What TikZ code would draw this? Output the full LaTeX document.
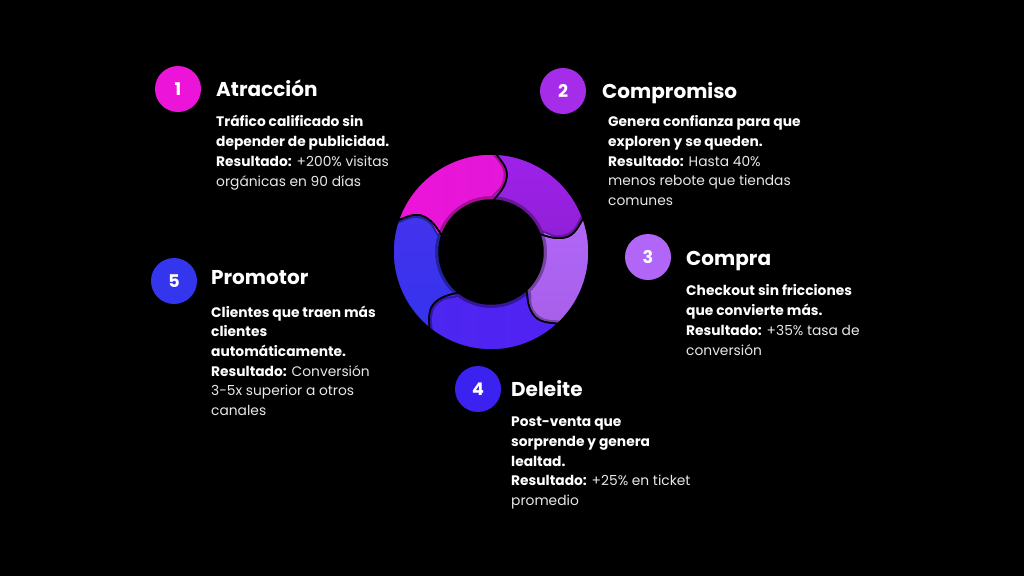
\documentclass[tikz,border=0pt]{standalone}
\usepackage{fontspec}
\setmainfont{Poppins}
\definecolor{cA}{HTML}{EC14D8}
\definecolor{cB}{HTML}{A52CE8}
\definecolor{cC}{HTML}{B266F8}
\definecolor{cD}{HTML}{3C22F0}
\definecolor{cE}{HTML}{3436EE}
\definecolor{sB}{HTML}{9E22EA}
\definecolor{sD}{HTML}{5222F2}
\definecolor{txt}{HTML}{E8E8E8}
\newcommand\ringpath[4]{\path[#4] (#1:98) arc[start angle=#1, end angle=#2, radius=98pt] .. controls ({#2-3}:92) and ({#2-9}:86) .. ({#2-9}:75) .. controls ({#2-9}:64) and ({#2-3}:{#3+5}) .. (#2:#3) arc[start angle=#2, end angle=#1, radius=#3 pt] .. controls ({#1-3}:{#3+5}) and ({#1-9}:64) .. ({#1-9}:75) .. controls ({#1-9}:86) and ({#1-3}:92) .. (#1:98) -- cycle;}
\tikzset{
  num/.style={circle, minimum size=46pt, inner sep=0pt, text=white, font=\bfseries\fontsize{17.5}{17.5}\selectfont},
  ttl/.style={anchor=base west, inner sep=0pt, text=white, font=\bfseries\fontsize{20}{24}\selectfont},
  body/.style={anchor=base west, inner sep=0pt, align=left, text=txt, font=\fontsize{13.8}{19.7}\selectfont},
  outl/.style={draw=black, line width=1.5pt}
}
\begin{document}
\begin{tikzpicture}[x=1pt,y=1pt]
\fill[black] (0,0) rectangle (1024,-576);
\useasboundingbox (0,0) rectangle (1024,-576);
% ring
\begin{scope}[shift={(491,-252)}]
  % dark bases
  \ringpath{161}{87}{52}{fill=cA!70!black}
  \ringpath{87}{20}{52}{fill=sB!65!black}
  \ringpath{20}{-47}{52}{fill=cC!65!black}
  \ringpath{-47}{-129}{52}{fill=sD!65!black}
  \ringpath{231}{161}{52}{fill=cE!65!black}
  % faces
  \ringpath{161}{89.5}{56}{left color=cA, right color=cA!88!cB}
  \ringpath{87}{22.5}{56}{top color=sB, bottom color=sB!92!black}
  \ringpath{20}{-44.5}{56}{top color=cC, bottom color=cC!94!black}
  \ringpath{-47}{-126.5}{56}{left color=sD!80!cE, right color=sD}
  \ringpath{231}{163.5}{56}{top color=cE!92!cA, bottom color=cE!85!cD}
  % outlines
  \ringpath{161}{87}{52}{outl}
  \ringpath{87}{20}{52}{outl}
  \ringpath{20}{-47}{52}{outl}
  \ringpath{-47}{-129}{52}{outl}
  \ringpath{231}{161}{52}{outl}
\end{scope}
% step 1
\node[num, fill=cA] (n1) at (178,-89) {1};
\node[ttl] (t1) at (216,-96) {Atracción};
\node[body] (b1) at (216,-186) {\textbf{\color{white}Tráfico calificado sin}\\\textbf{\color{white}depender de publicidad.}\\\textbf{\color{white}Resultado:} +200\% visitas\\orgánicas en 90 días};
% step 2
\node[num, fill=cB] (n2) at (563,-91) {2};
\node[ttl] (t2) at (602,-98) {Compromiso};
\node[body] (b2) at (608,-205.5) {\textbf{\color{white}Genera confianza para que}\\\textbf{\color{white}exploren y se queden.}\\\textbf{\color{white}Resultado:} Hasta 40\%\\menos rebote que tiendas\\comunes};
% step 3
\node[num, fill=cC] (n3) at (648,-257) {3};
\node[ttl] (t3) at (686,-265) {Compra};
\node[body] (b3) at (686,-355) {\textbf{\color{white}Checkout sin fricciones}\\\textbf{\color{white}que convierte más.}\\\textbf{\color{white}Resultado:} +35\% tasa de\\conversión};
% step 4
\node[num, fill=cD] (n4) at (478,-389) {4};
\node[ttl] (t4) at (511,-396) {Deleite};
\node[body] (b4) at (511,-505.5) {\textbf{\color{white}Post-venta que}\\\textbf{\color{white}sorprende y genera}\\\textbf{\color{white}lealtad.}\\\textbf{\color{white}Resultado:} +25\% en ticket\\promedio};
% step 5
\node[num, fill=cE] (n5) at (174,-281) {5};
\node[ttl] (t5) at (211,-284) {Promotor};
\node[body] (b5) at (211,-415.5) {\textbf{\color{white}Clientes que traen más}\\\textbf{\color{white}clientes}\\\textbf{\color{white}automáticamente.}\\\textbf{\color{white}Resultado:} Conversión\\3-5x superior a otros\\canales};
\end{tikzpicture}
\end{document}
